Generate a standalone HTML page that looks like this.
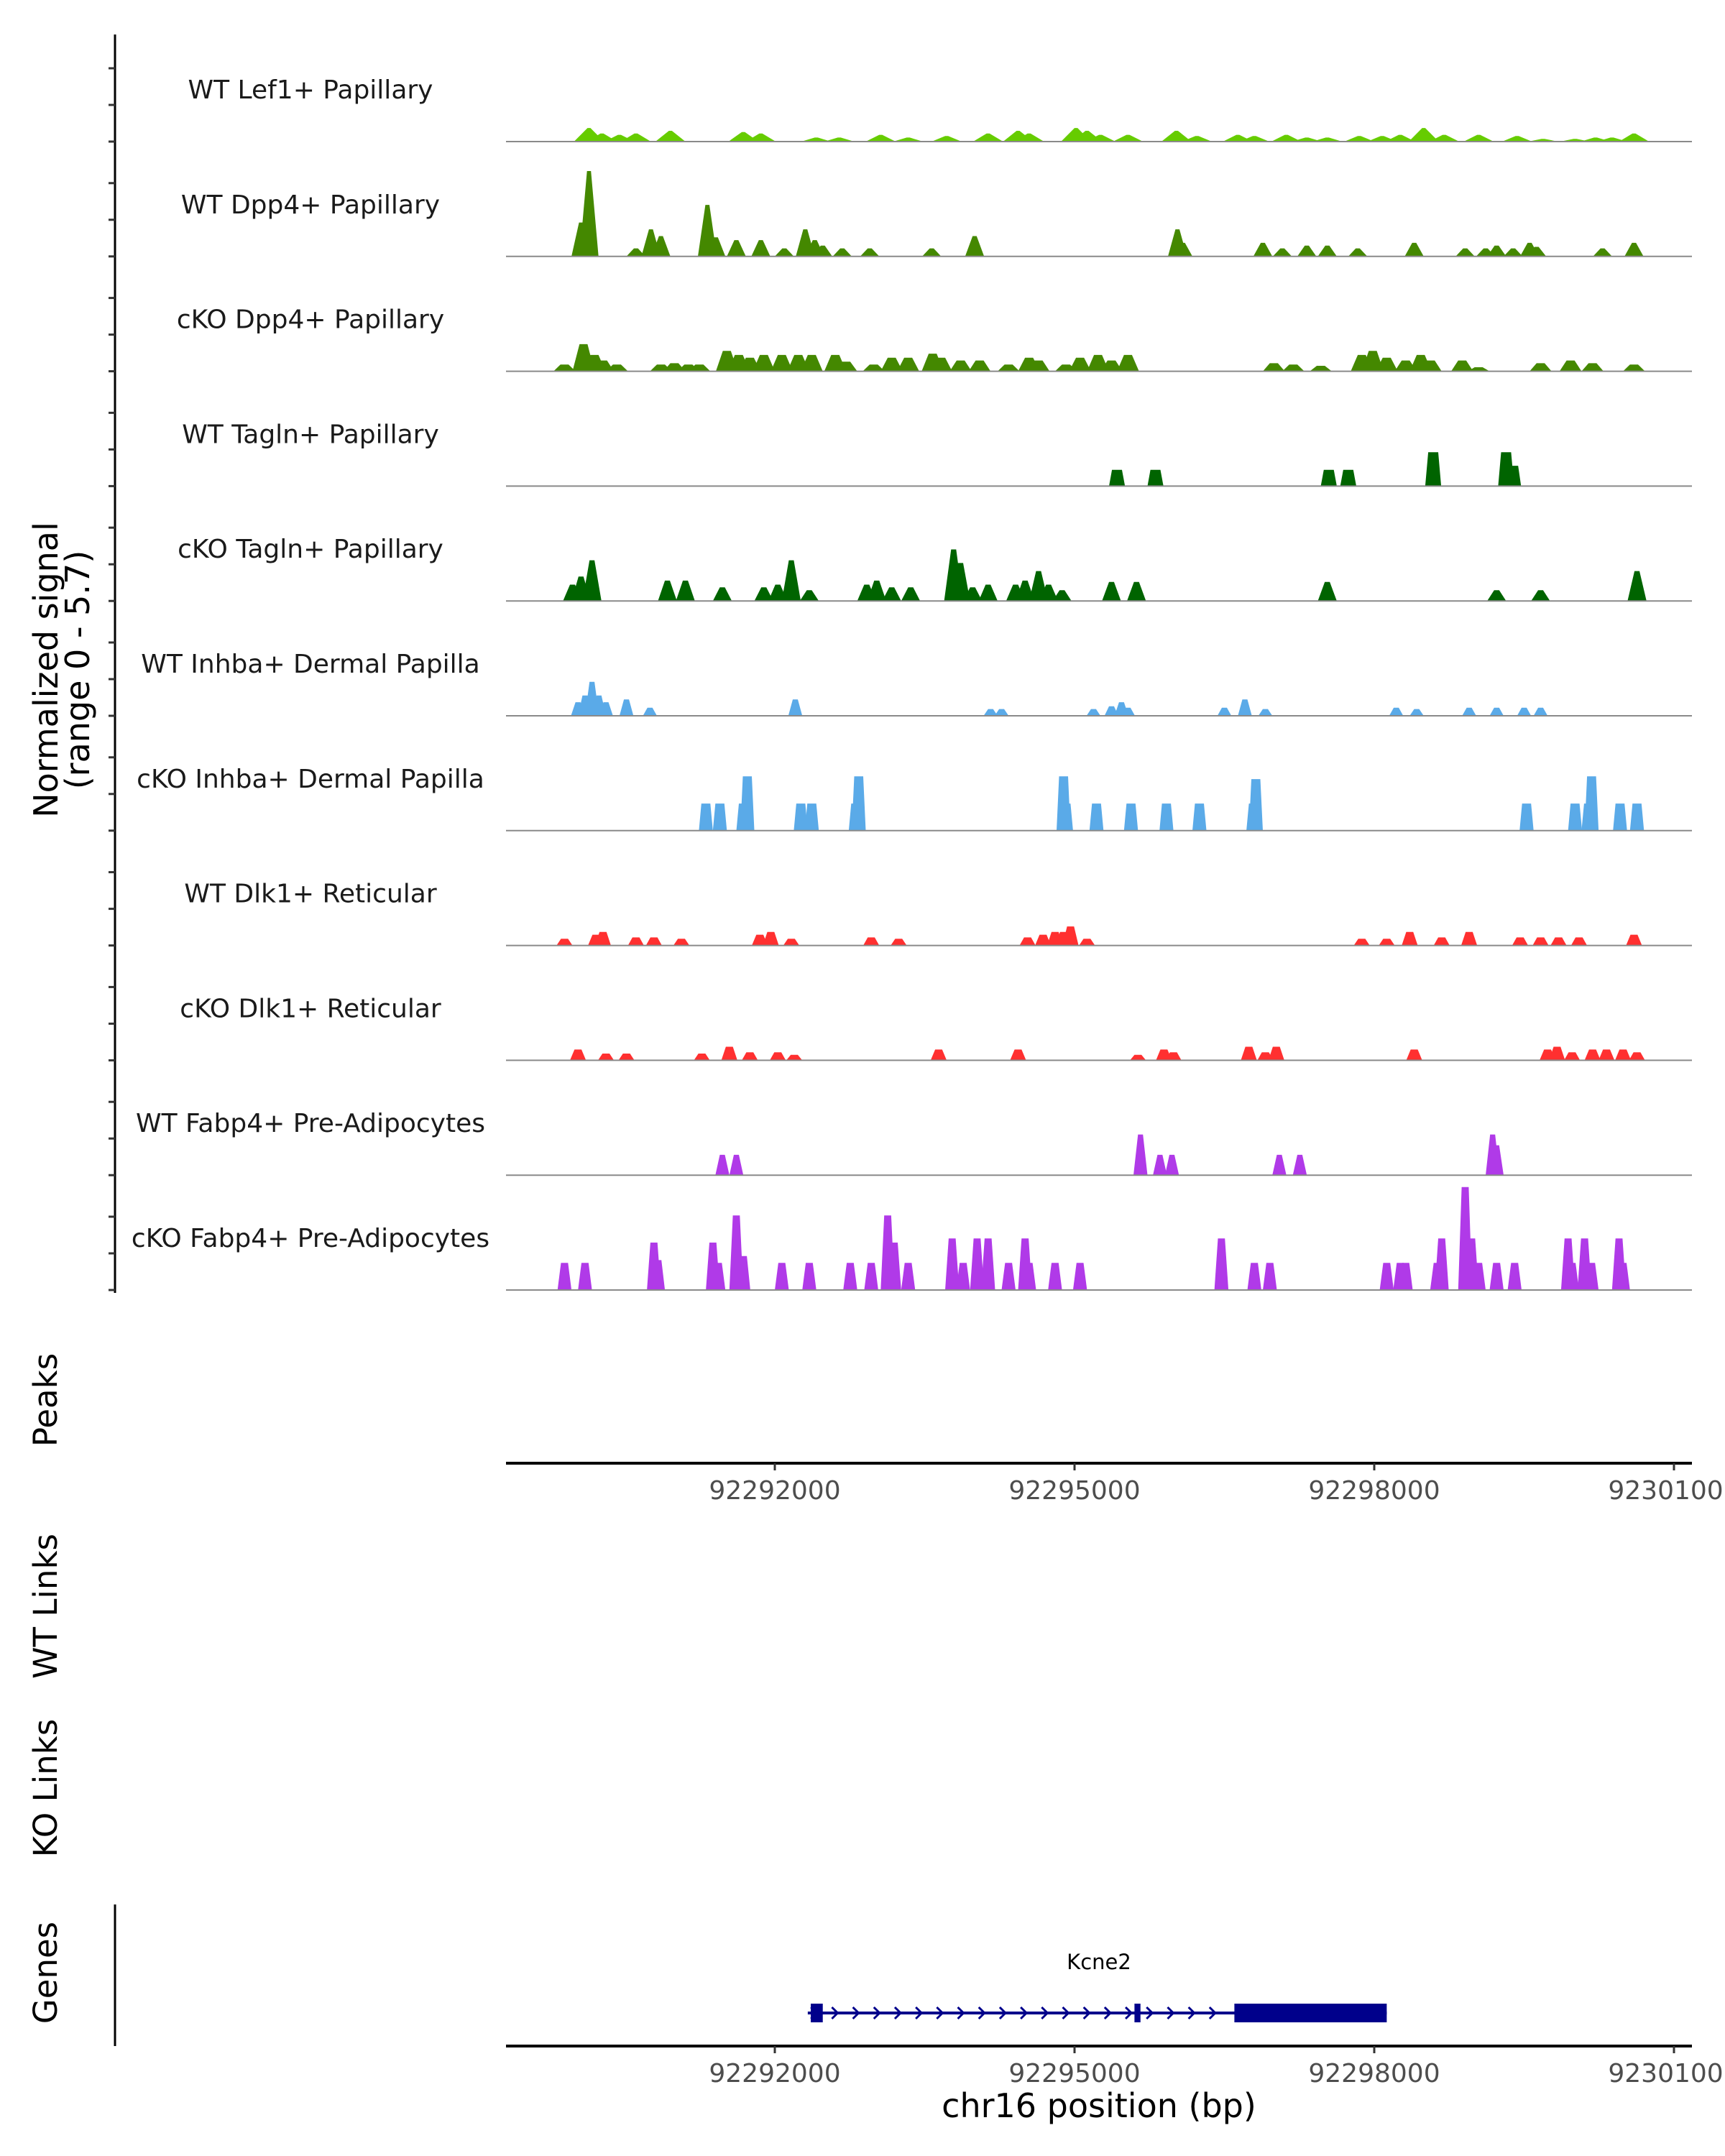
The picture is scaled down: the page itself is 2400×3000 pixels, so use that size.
<!DOCTYPE html>
<html><head><meta charset="utf-8">
<style>
html,body{margin:0;padding:0;background:#fff;}
svg{display:block;font-family:"DejaVu Sans","Liberation Sans",sans-serif;}
</style></head>
<body>
<svg id="chart" width="2400" height="3000" viewBox="0 0 2400 3000" xmlns="http://www.w3.org/2000/svg">
  <g id="left-axis"></g>
  <text transform="translate(80,932) rotate(-90)" text-anchor="middle" font-size="46" fill="#000">Normalized signal</text>
  <text transform="translate(124,932) rotate(-90)" text-anchor="middle" font-size="46" fill="#000">(range 0 - 5.7)</text>
  <g id="tracks"></g>
  <text transform="translate(79,1948) rotate(-90)" text-anchor="middle" font-size="45" fill="#000">Peaks</text>
  <text transform="translate(79,2235) rotate(-90)" text-anchor="middle" font-size="45" fill="#000">WT Links</text>
  <text transform="translate(79,2488) rotate(-90)" text-anchor="middle" font-size="45" fill="#000">KO Links</text>
  <text transform="translate(79,2745) rotate(-90)" text-anchor="middle" font-size="45" fill="#000">Genes</text>
  <line x1="160" y1="2650" x2="160" y2="2847" stroke="#000" stroke-width="3"/>
  <g id="xaxes"></g>
  <g id="gene"></g>
  <text x="1529" y="2946" text-anchor="middle" font-size="46" fill="#000">chr16 position (bp)</text>
</svg>
<script>
const trackNames = ["WT Lef1+ Papillary","WT Dpp4+ Papillary","cKO Dpp4+ Papillary","WT Tagln+ Papillary","cKO Tagln+ Papillary","WT Inhba+ Dermal Papilla","cKO Inhba+ Dermal Papilla","WT Dlk1+ Reticular","cKO Dlk1+ Reticular","WT Fabp4+ Pre-Adipocytes","cKO Fabp4+ Pre-Adipocytes"];
const trackColors = ["#66cc00","#448800","#448800","#006400","#006400","#5aaae8","#5aaae8","#ff3030","#ff3030","#b03ae8","#b03ae8"];
const pos0 = [92290140,92290270,92290445,92290610,92290955,92291685,92291860,92292415,92292645,92293060,92293335,92293720,92294135,92294435,92294545,92295015,92295125,92295260,92295535,92296020,92296225,92296635,92296800,92297120,92297325,92297530,92297850,92298080,92298260,92298495,92298700,92299045,92299430,92299690,92300010,92300215,92300380,92300600];
const val0 = [.74,.44,.37,.44,.59,.52,.44,.22,.22,.37,.22,.3,.44,.59,.44,.74,.59,.37,.37,.59,.3,.37,.3,.37,.22,.22,.3,.3,.37,.74,.37,.37,.3,.15,.15,.22,.22,.44];
const pos1 = [92290060,92290140,92290610,92290760,92290860,92291325,92291410,92291615,92291860,92292095,92292305,92292400,92292480,92292675,92292950,92293570,92294000,92296030,92296085,92296885,92297080,92297325,92297530,92297835,92298400,92298910,92299115,92299225,92299390,92299555,92299625,92300285,92300600];
const val1 = [1.85,4.66,.44,1.48,1.11,2.81,1.04,.89,.89,.44,1.48,.89,.59,.44,.44,.44,1.11,1.48,.74,.74,.44,.59,.59,.44,.74,.44,.44,.59,.44,.74,.52,.44,.74];
const pos2 = [92289895,92290085,92290195,92290280,92290420,92290860,92290995,92291135,92291245,92291520,92291640,92291750,92291890,92292070,92292235,92292370,92292605,92292715,92292990,92293170,92293335,92293580,92293665,92293860,92294050,92294340,92294545,92294640,92294915,92295055,92295235,92295370,92295535,92296995,92297190,92297465,92297875,92297985,92298125,92298315,92298465,92298565,92298880,92299045,92299665,92299965,92300185,92300600];
const val2 = [.37,1.48,.89,.59,.37,.37,.44,.37,.37,1.11,.89,.74,.89,.89,.89,.89,.89,.52,.37,.74,.74,.96,.74,.59,.59,.37,.74,.59,.37,.74,.89,.59,.89,.44,.37,.3,.89,1.11,.74,.59,.89,.59,.59,.22,.44,.59,.44,.37];
const pos3 = [92295425,92295810,92297545,92297740,92298590,92299320,92299390];
const val3 = [.89,.89,.89,.89,1.85,1.85,1.11];
const pos4 = [92289975,92290060,92290170,92290925,92291105,92291475,92291890,92292030,92292165,92292345,92292920,92293020,92293170,92293360,92293790,92293860,92293980,92294135,92294410,92294505,92294640,92294740,92294875,92295370,92295620,92297530,92299225,92299665,92300630];
const val4 = [.89,1.33,2.22,1.11,1.11,.74,.74,.89,2.22,.59,.89,1.11,.74,.74,2.81,2.07,.74,.89,.89,1.11,1.63,.89,.59,1.04,1.04,1.04,.59,.59,1.63];
const pos5 = [92290030,92290100,92290170,92290240,92290310,92290515,92290750,92292205,92294160,92294270,92295190,92295370,92295470,92295535,92296500,92296705,92296910,92298220,92298425,92298950,92299225,92299500,92299665];
const val5 = [.74,1.11,1.85,1.11,.74,.89,.44,.89,.37,.37,.37,.52,.74,.44,.44,.89,.37,.44,.37,.44,.44,.44,.44];
const pos6 = [92291310,92291450,92291685,92291725,92292260,92292370,92292810,92292840,92294890,92294915,92295220,92295565,92295920,92296250,92296790,92296815,92299525,92300010,92300145,92300175,92300460,92300630];
const val6 = [1.48,1.48,1.48,2.96,1.48,1.48,1.48,2.96,2.96,1.48,1.48,1.48,1.48,1.48,1.48,2.81,1.48,1.48,1.48,2.96,1.48,1.48];
const pos7 = [92289895,92290210,92290280,92290610,92290790,92291065,92291850,92291960,92292165,92292965,92293240,92294530,92294685,92294805,92294890,92294960,92295125,92297875,92298125,92298355,92298675,92298950,92299460,92299665,92299845,92300050,92300600];
const val7 = [.37,.59,.74,.44,.44,.37,.59,.74,.37,.44,.37,.44,.59,.74,.74,1.04,.37,.37,.37,.74,.44,.74,.44,.44,.44,.44,.59];
const pos8 = [92290030,92290310,92290515,92291270,92291545,92291750,92292030,92292195,92293640,92294435,92295635,92295895,92295990,92296745,92296910,92297020,92298400,92299735,92299830,92299980,92300185,92300325,92300490,92300630];
const val8 = [.59,.37,.37,.37,.74,.44,.44,.3,.59,.59,.3,.59,.44,.74,.44,.74,.59,.59,.74,.44,.59,.59,.59,.44];
const pos9 = [92291475,92291615,92295660,92295855,92295975,92297050,92297255,92299185,92299225];
const val9 = [1.11,1.11,2.22,1.11,1.11,1.11,1.11,2.22,1.63];
const pos10 = [92289895,92290100,92290790,92290830,92291380,92291435,92291615,92291685,92292070,92292345,92292755,92292965,92293130,92293195,92293335,92293775,92293885,92294025,92294135,92294340,92294505,92294545,92294805,92295055,92296470,92296800,92296955,92298125,92298260,92298315,92298630,92298675,92298910,92298975,92299045,92299225,92299405,92299940,92299980,92300105,92300175,92300450,92300490];
const val10 = [1.48,1.48,2.59,1.63,2.59,1.48,4.07,1.85,1.48,1.48,1.48,1.48,4.07,2.59,1.48,2.81,1.48,2.81,2.81,1.48,2.81,1.48,1.48,1.48,2.81,1.48,1.48,1.48,1.48,1.48,1.48,2.81,5.62,2.81,1.48,1.48,1.48,2.81,1.48,2.81,1.48,2.81,1.48];
const trackPos = [pos0,pos1,pos2,pos3,pos4,pos5,pos6,pos7,pos8,pos9,pos10];
const trackVal = [val0,val1,val2,val3,val4,val5,val6,val7,val8,val9,val10];
const xTicks = [92292000,92295000,92298000,92301000];
const xTickLabels = ["92292000","92295000","92298000","92301000"];
const geneName = "Kcne2";
const geneStart = 92292330, geneEnd = 92298125;
const exonStarts = [92292360,92295600,92296600];
const exonEnds = [92292480,92295660,92298125];

const NS = "http://www.w3.org/2000/svg";
function mk(tag, attrs, parent){const e=document.createElementNS(NS,tag);for(const k in attrs)e.setAttribute(k,attrs[k]);parent.appendChild(e);return e;}
const X0 = 704, X1 = 2354;
function xs(bp){return 1078 + (bp-92292000)/3000*417;}
const PXU = 25.5;
function base(i){return 197 + i*159.8;}
function ys(i,v){return base(i) - v*PXU;}

const la = document.getElementById('left-axis');
const axl = mk('line',{x1:160,y1:48,x2:160,y2:1799,stroke:'#000','stroke-width':3},la);


for(let i=0;i<11;i++){
  for(const v of [0,2,4]){
    const t = mk('line',{x1:151,y1:ys(i,v),x2:160,y2:ys(i,v),stroke:'#333','stroke-width':3},la);
    
    
  }
}

const tg = document.getElementById('tracks');
const hwTrack = [150,95,110,80,95,70,70,80,80,70,70];
const thTrack = [15,20,40,50,25,25,45,35,35,25,35];
for(let i=0;i<11;i++){
  const g = mk('g',{},tg);
  
  
  const lbl = mk('text',{x:432,y:base(i)-60,'text-anchor':'middle','font-size':36,fill:'#1a1a1a'},g);
  lbl.textContent = trackNames[i];
  
  
  const P = trackPos[i], V = trackVal[i];
  for(let k=0;k<P.length;k++){
    const hw = hwTrack[i], th = thTrack[i];
    const b = base(i), y = ys(i,V[k]);
    const pts = [[xs(P[k]-hw),b],[xs(P[k]-th),y],[xs(P[k]+th),y],[xs(P[k]+hw),b]];
    const p = mk('polygon',{points:pts.map(q=>q[0].toFixed(1)+','+q[1].toFixed(1)).join(' '),fill:trackColors[i]},g);
    
    
  }
  const bl = mk('line',{x1:X0,y1:base(i),x2:X1,y2:base(i),stroke:'#8a8a8a','stroke-width':2},g);
  
  
}

const xa = document.getElementById('xaxes');
for(const [ay,ly] of [[2036,2086],[2847,2897]]){
  const l = mk('line',{x1:X0,y1:ay,x2:X1,y2:ay,stroke:'#000','stroke-width':4},xa);
  
  
  xTicks.forEach((t,j)=>{
    const tk = mk('line',{x1:xs(t),y1:ay,x2:xs(t),y2:ay+10,stroke:'#333','stroke-width':3},xa);
    
    
    const tl = mk('text',{x:xs(t),y:ly,'text-anchor':'middle','font-size':36,fill:'#4d4d4d'},xa);
    tl.textContent = xTickLabels[j];
    
    
  });
}

const gg = document.getElementById('gene');
const gy = 2801;
const gl = mk('line',{x1:xs(geneStart),y1:gy,x2:xs(geneEnd),y2:gy,stroke:'#00008b','stroke-width':4},gg);


for(let bp=geneStart+60; bp<exonStarts[2]-60; bp+=210){
  const cx = xs(bp);
  const ch = mk('polyline',{points:`${cx-4},${gy-8} ${cx+4},${gy} ${cx-4},${gy+8}`,fill:'none',stroke:'#00008b','stroke-width':3},gg);
  
  
}
exonStarts.forEach((s,j)=>{
  const r = mk('rect',{x:xs(s),y:gy-13,width:Math.max(8,xs(exonEnds[j])-xs(s)),height:26,fill:'#00008b'},gg);
  
  
});
const gt = mk('text',{x:1529,y:2740,'text-anchor':'middle','font-size':29,fill:'#000'},gg);
gt.textContent = geneName;


</script>
</body></html>
